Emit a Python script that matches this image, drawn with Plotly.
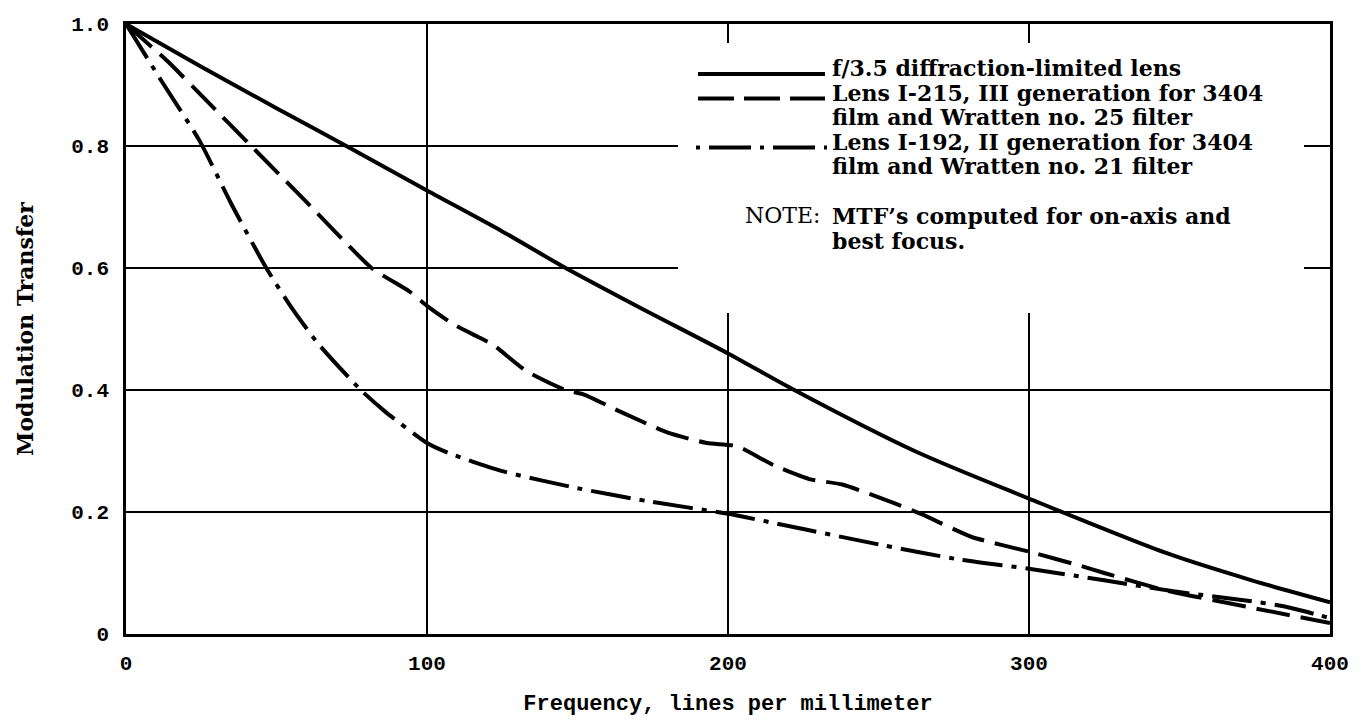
import plotly.graph_objects as go

# ---- data ----
freq_solid = [0, 25, 50, 75, 100, 125, 145, 170, 200, 222, 262, 300, 346, 374, 400]
mtf_solid = [1.0, 0.93, 0.862, 0.795, 0.727, 0.66, 0.603, 0.537, 0.46, 0.40, 0.30, 0.222, 0.132, 0.088, 0.052]

freq_i215 = [0, 14, 27, 41.6, 60, 81.6, 94, 100, 109, 117, 122, 133, 146, 152, 164, 180, 193, 203, 215, 227, 238, 255, 264.5, 281, 300, 317, 325, 345, 372, 400]
mtf_i215 = [1.0, 0.938, 0.873, 0.80, 0.708, 0.60, 0.562, 0.538, 0.507, 0.487, 0.474, 0.431, 0.40, 0.393, 0.365, 0.33, 0.313, 0.308, 0.277, 0.254, 0.245, 0.215, 0.196, 0.159, 0.135, 0.112, 0.10, 0.072, 0.045, 0.018]

freq_i192 = [0, 12, 24.5, 35, 46.6, 55, 64, 78, 86, 100, 107, 125, 150, 173, 200, 225, 252, 277, 300, 325, 348, 372, 385, 400]
mtf_i192 = [1.0, 0.905, 0.808, 0.705, 0.60, 0.535, 0.475, 0.40, 0.365, 0.313, 0.297, 0.267, 0.239, 0.218, 0.197, 0.172, 0.145, 0.122, 0.107, 0.088, 0.07, 0.055, 0.045, 0.026]

x_tickvals = [0, 100, 200, 300, 400]
x_ticktext = ["0", "100", "200", "300", "400"]
y_tickvals = [0, 0.2, 0.4, 0.6, 0.8, 1.0]
y_ticktext = ["0", "0.2", "0.4", "0.6", "0.8", "1.0"]

legend_lines = [
    "f/3.5 diffraction-limited lens",
    "Lens I-215, III generation for 3404",
    "film and Wratten no. 25 filter",
    "Lens I-192, II generation for 3404",
    "film and Wratten no. 21 filter",
]
note_label = "NOTE:"
note_lines = ["MTF\u2019s computed for on-axis and", "best focus."]

# ---- layout geometry (pixels) ----
W, H = 1361, 723
ML, MR, MT, MB = 118, 39, 16, 97
PW, PH = W - ML - MR, H - MT - MB


def px(xp):
    return (xp - ML) / PW


def py(yp):
    return (H - MB - yp) / PH


SERIF = "DejaVu Serif"
MONO = "Liberation Mono"
LW = 4
DASH = "34px,11px"
DASHDOT = "40px,9px,5px,9px"
TXT = 22

fig = go.Figure()
fig.add_trace(go.Scatter(x=freq_solid, y=mtf_solid, mode="lines",
                         line=dict(color="black", width=LW, shape="spline", smoothing=0.8),
                         showlegend=False))
fig.add_trace(go.Scatter(x=freq_i215, y=mtf_i215, mode="lines",
                         line=dict(color="black", width=LW, dash=DASH, shape="spline", smoothing=0.5),
                         showlegend=False))
fig.add_trace(go.Scatter(x=freq_i192, y=mtf_i192, mode="lines",
                         line=dict(color="black", width=LW, dash=DASHDOT, shape="spline", smoothing=0.6),
                         showlegend=False))

shapes = []
# white legend/note box hiding the grid
shapes.append(dict(type="rect", xref="paper", yref="paper",
                   x0=px(670), x1=px(1296), y0=py(305), y1=py(35),
                   fillcolor="white", line=dict(width=0), layer="above"))

rows = [60, 84.5, 109, 133.5, 158]
note_y = [208, 232.5]
text_x = 822
sample_x0, sample_x1 = 690, 817
# legend samples
shapes.append(dict(type="line", xref="paper", yref="paper",
                   x0=px(sample_x0), x1=px(sample_x1), y0=py(rows[0] + 6), y1=py(rows[0] + 6),
                   line=dict(color="black", width=LW), layer="above"))
shapes.append(dict(type="line", xref="paper", yref="paper",
                   x0=px(sample_x0), x1=px(sample_x1), y0=py(rows[1] + 6), y1=py(rows[1] + 6),
                   line=dict(color="black", width=LW, dash="36px,10px"), layer="above"))
shapes.append(dict(type="line", xref="paper", yref="paper",
                   x0=px(sample_x0 - 2), x1=px(sample_x1 + 2), y0=py(rows[3] + 6), y1=py(rows[3] + 6),
                   line=dict(color="black", width=LW, dash="4px,9px,42px,9px"), layer="above"))

annotations = []
for r, t in zip(rows, legend_lines):
    annotations.append(dict(x=px(text_x), y=py(r), xref="paper", yref="paper", text=t,
                            showarrow=False, xanchor="left", yanchor="middle",
                            font=dict(family=SERIF, size=TXT, color="black", weight="bold")))
annotations.append(dict(x=px(814), y=py(note_y[0]), xref="paper", yref="paper", text=note_label,
                        showarrow=False, xanchor="right", yanchor="middle",
                        font=dict(family=SERIF, size=TXT, color="black")))
for r, t in zip(note_y, note_lines):
    annotations.append(dict(x=px(text_x), y=py(r), xref="paper", yref="paper", text=t,
                            showarrow=False, xanchor="left", yanchor="middle",
                            font=dict(family=SERIF, size=TXT, color="black", weight="bold")))

fig.update_layout(
    width=W, height=H,
    margin=dict(l=ML, r=MR, t=MT, b=MB, pad=0, autoexpand=False),
    paper_bgcolor="white", plot_bgcolor="white",
    shapes=shapes, annotations=annotations,
    showlegend=False,
)
fig.update_xaxes(range=[0, 400], tickvals=x_tickvals, ticktext=x_ticktext,
                 showline=True, mirror=True, linecolor="black", linewidth=2.5,
                 showgrid=True, gridcolor="black", gridwidth=1.5, zeroline=False,
                 ticks="", ticklabelstandoff=8, automargin=False,
                 tickfont=dict(family=MONO, size=21, color="black", weight="bold"),
                 title=dict(text="Frequency, lines per millimeter", standoff=20,
                            font=dict(family=MONO, size=22, color="black", weight="bold")))
fig.update_yaxes(range=[0, 1], tickvals=y_tickvals, ticktext=y_ticktext,
                 showline=True, mirror=True, linecolor="black", linewidth=2.5,
                 showgrid=True, gridcolor="black", gridwidth=1.5, zeroline=False,
                 ticks="", ticklabelstandoff=10, automargin=False,
                 tickfont=dict(family=MONO, size=21, color="black", weight="bold"),
                 title=dict(text="Modulation Transfer", standoff=32,
                            font=dict(family=SERIF, size=22, color="black", weight="bold")))

fig.write_html("out.html")
